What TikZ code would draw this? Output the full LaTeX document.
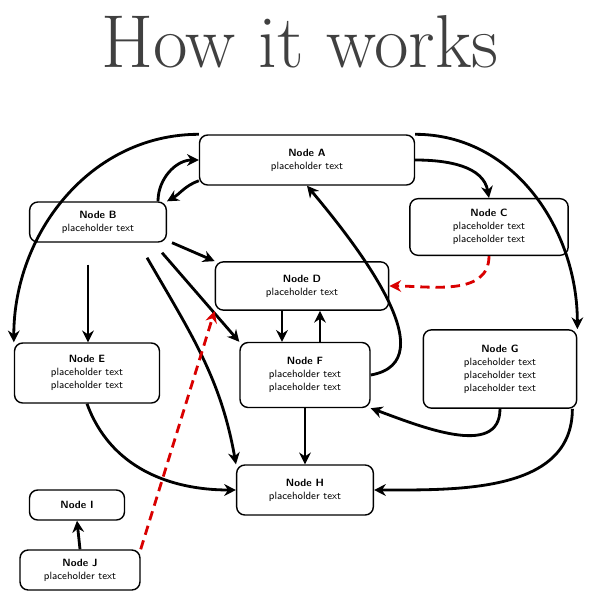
\documentclass[tikz,border=0pt]{standalone}
\usetikzlibrary{arrows.meta}
\tikzset{
  box/.style={draw, very thick, rounded corners=7pt, align=center,
    font=\sffamily\small, inner sep=3pt, fill=white},
  link/.style={line width=2.4pt, -{Stealth[length=10pt,width=10pt]}},
  hint/.style={link, red!85!black, dashed, dash pattern=on 8pt off 5pt}
}
\begin{document}
\begin{tikzpicture}[x=0.03cm, y=-0.03cm]
\useasboundingbox (0,0) rectangle (600,602);

\node[font=\fontsize{64}{70}\selectfont, text=black!75] (title) at (300,42) {How it works};

% boxes
\node[box, minimum width=6.45cm, minimum height=1.5cm] (A) at (307,160) {\textbf{Node A}\\ placeholder text};
\node[box, minimum width=4.1cm,  minimum height=1.2cm] (B) at (98,222)  {\textbf{Node B}\\ placeholder text};
\node[box, minimum width=4.75cm, minimum height=1.7cm] (C) at (489,227) {\textbf{Node C}\\ placeholder text\\ placeholder text};
\node[box, minimum width=5.2cm,  minimum height=1.45cm] (D) at (302,286) {\textbf{Node D}\\ placeholder text};
\node[box, minimum width=4.35cm, minimum height=1.8cm] (E) at (87,373)  {\textbf{Node E}\\ placeholder text\\ placeholder text};
\node[box, minimum width=3.9cm,  minimum height=1.95cm] (F) at (305,375) {\textbf{Node F}\\ placeholder text\\ placeholder text};
\node[box, minimum width=4.6cm,  minimum height=2.35cm] (G) at (500,369) {\textbf{Node G}\\ placeholder text\\ placeholder text\\ placeholder text};
\node[box, minimum width=4.1cm,  minimum height=1.5cm] (H) at (305,490) {\textbf{Node H}\\ placeholder text};
\node[box, minimum width=2.85cm, minimum height=0.9cm] (I) at (77,505)  {\textbf{Node I}};
\node[box, minimum width=3.6cm,  minimum height=1.2cm] (J) at (80,570)  {\textbf{Node J}\\ placeholder text};

% connectors
\draw[link] (A.south west) ++(0,-5) to[out=200, in=30] (B.north east);
\draw[link] (B.north) ++(60,0) to[out=90, in=180] (A.west);
\draw[link] (A.east) to[out=0, in=100] (C.north);
\draw[link] (A.north west) to[out=180, in=90] (E.north west);
\draw[link] (A.north east) to[out=0, in=90] (G.north east);
\draw[link] (B.south) ++(-10,22) coordinate (b1) -- (b1 |- E.north);
\draw[link] (B.south east) ++(5,0) -- (D.north west);
\draw[link] (B.south east) ++(-5,10) -- (F.north west);
\draw[link] (B.south east) ++(-20,15) to[out=-60, in=100] (H.north west);
\draw[link] (D.south) ++(-20,0) coordinate (d1) -- (d1 |- F.north);
\draw[link] (F.north) ++(15,0) coordinate (f1) -- (f1 |- D.south);
\draw[link] (F.east) to[out=10, in=-50] (A.south);
\draw[link] (F.south) -- (H.north);
\draw[link] (E.south) to[out=-70, in=180] (H.west);
\draw[link] (G.south) ++(0,0) to[out=-90, in=-20] (F.south east);
\draw[link] (G.south east) ++(-5,0) to[out=-90, in=0] (H.east);
\draw[link] (J.north) -- (I.south);
\draw[hint] (C.south) to[out=-90, in=0] (D.east);
\draw[hint] (J.north east) -- (D.south west);
\end{tikzpicture}
\end{document}
